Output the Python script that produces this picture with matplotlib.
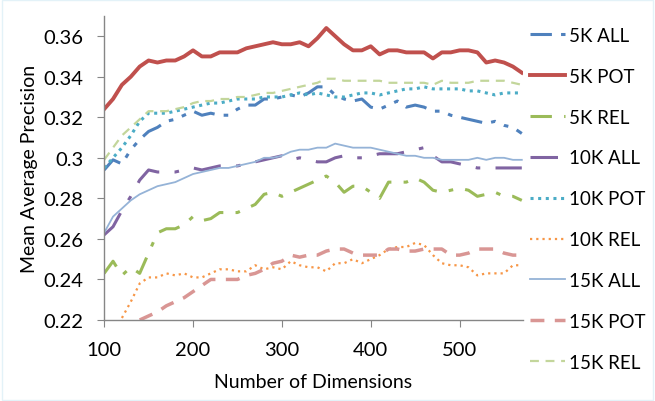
import numpy as np
import matplotlib
matplotlib.use("Agg")
import matplotlib.pyplot as plt
from matplotlib.patches import Rectangle

plt.rcParams['font.family'] = ['Lato', 'DejaVu Sans']

# number of dimensions
dims = list(range(100, 571, 10))

all_5k = [0.294, 0.299, 0.297, 0.304, 0.309, 0.313, 0.315, 0.318, 0.319, 0.321,
          0.323, 0.321, 0.322, 0.321, 0.321, 0.324, 0.326, 0.326, 0.329, 0.329,
          0.330, 0.331, 0.330, 0.332, 0.335, 0.335, 0.331, 0.329, 0.328, 0.329,
          0.325, 0.324, 0.326, 0.328, 0.325, 0.326, 0.325, 0.323, 0.323, 0.321,
          0.320, 0.319, 0.318, 0.317, 0.318, 0.316, 0.315, 0.312]
pot_5k = [0.324, 0.329, 0.336, 0.340, 0.345, 0.348, 0.347, 0.348, 0.348, 0.350,
          0.353, 0.350, 0.350, 0.352, 0.352, 0.352, 0.354, 0.355, 0.356, 0.357,
          0.356, 0.356, 0.357, 0.355, 0.359, 0.364, 0.360, 0.356, 0.353, 0.353,
          0.355, 0.351, 0.353, 0.353, 0.352, 0.352, 0.352, 0.349, 0.352, 0.352,
          0.353, 0.353, 0.352, 0.347, 0.348, 0.347, 0.345, 0.342]
rel_5k = [0.243, 0.249, 0.242, 0.246, 0.243, 0.253, 0.263, 0.265, 0.265, 0.267,
          0.271, 0.269, 0.270, 0.273, 0.273, 0.273, 0.275, 0.277, 0.282, 0.283,
          0.281, 0.283, 0.285, 0.287, 0.289, 0.291, 0.288, 0.283, 0.286, 0.286,
          0.283, 0.280, 0.288, 0.288, 0.288, 0.290, 0.288, 0.284, 0.283, 0.284,
          0.285, 0.284, 0.281, 0.282, 0.283, 0.281, 0.281, 0.279]
all_10k = [0.262, 0.266, 0.274, 0.281, 0.289, 0.294, 0.293, 0.293, 0.293, 0.294,
           0.295, 0.294, 0.295, 0.296, 0.296, 0.296, 0.297, 0.298, 0.299, 0.300,
           0.301, 0.299, 0.300, 0.299, 0.298, 0.298, 0.300, 0.301, 0.300, 0.300,
           0.301, 0.302, 0.302, 0.302, 0.303, 0.304, 0.305, 0.301, 0.298, 0.298,
           0.297, 0.296, 0.295, 0.295, 0.295, 0.295, 0.295, 0.295]
pot_10k = [0.295, 0.300, 0.305, 0.311, 0.318, 0.322, 0.322, 0.322, 0.323, 0.324,
           0.325, 0.326, 0.327, 0.327, 0.328, 0.329, 0.329, 0.329, 0.330, 0.330,
           0.330, 0.331, 0.332, 0.331, 0.332, 0.331, 0.330, 0.330, 0.331, 0.332,
           0.332, 0.331, 0.332, 0.333, 0.334, 0.334, 0.335, 0.334, 0.334, 0.334,
           0.334, 0.333, 0.333, 0.332, 0.331, 0.332, 0.332, 0.332]
rel_10k = [np.nan, np.nan, 0.221, 0.229, 0.238, 0.241, 0.241, 0.243, 0.242, 0.243,
           0.241, 0.241, 0.243, 0.245, 0.245, 0.244, 0.244, 0.247, 0.245, 0.246,
           0.245, 0.249, 0.247, 0.246, 0.246, 0.244, 0.248, 0.248, 0.250, 0.248,
           0.250, 0.252, 0.255, 0.256, 0.256, 0.258, 0.257, 0.252, 0.248, 0.247,
           0.247, 0.246, 0.242, 0.243, 0.243, 0.243, 0.247, 0.247]
all_15k = [0.263, 0.271, 0.275, 0.279, 0.282, 0.284, 0.286, 0.287, 0.288, 0.290,
           0.292, 0.293, 0.294, 0.295, 0.295, 0.296, 0.297, 0.298, 0.300, 0.300,
           0.301, 0.303, 0.304, 0.304, 0.305, 0.305, 0.307, 0.306, 0.305, 0.305,
           0.305, 0.304, 0.303, 0.302, 0.301, 0.301, 0.300, 0.300, 0.299, 0.299,
           0.299, 0.299, 0.300, 0.299, 0.300, 0.300, 0.299, 0.299]
pot_15k = [np.nan, np.nan, np.nan, np.nan, 0.220, 0.222, 0.224, 0.227, 0.229, 0.231,
           0.234, 0.237, 0.240, 0.240, 0.240, 0.240, 0.242, 0.243, 0.245, 0.248,
           0.249, 0.252, 0.251, 0.252, 0.252, 0.254, 0.255, 0.255, 0.253, 0.252,
           0.252, 0.252, 0.255, 0.255, 0.254, 0.254, 0.255, 0.255, 0.255, 0.252,
           0.252, 0.253, 0.255, 0.255, 0.255, 0.253, 0.252, 0.252]
rel_15k = [0.299, 0.305, 0.311, 0.315, 0.319, 0.323, 0.323, 0.323, 0.324, 0.325,
           0.327, 0.328, 0.328, 0.329, 0.329, 0.330, 0.330, 0.331, 0.332, 0.332,
           0.333, 0.334, 0.335, 0.336, 0.337, 0.339, 0.339, 0.338, 0.338, 0.338,
           0.338, 0.338, 0.337, 0.337, 0.337, 0.337, 0.337, 0.336, 0.338, 0.337,
           0.337, 0.337, 0.338, 0.338, 0.338, 0.338, 0.337, 0.336]

yticks = [0.22, 0.24, 0.26, 0.28, 0.30, 0.32, 0.34, 0.36]
ytick_labels = ['0.22', '0.24', '0.26', '0.28', '0.3', '0.32', '0.34', '0.36']
xticks = [100, 200, 300, 400, 500]

fig = plt.figure(figsize=(6.55, 4.02), dpi=100)
ax = fig.add_axes([0.159, 0.2015, 0.639, 0.7565])

ax.plot(dims, all_5k, color='#4F81BD', lw=2.2, dashes=(7, 3, 1.5, 3, 1.5, 3), label='5K ALL')
ax.plot(dims, pot_5k, color='#C0504D', lw=2.8, label='5K POT')
ax.plot(dims, rel_5k, color='#9BBB59', lw=2.2, dashes=(7, 4, 1.5, 4), label='5K REL')
ax.plot(dims, all_10k, color='#8064A2', lw=2.2, dashes=(9, 5, 1.5, 5), label='10K ALL')
ax.plot(dims, pot_10k, color='#4BACC6', lw=2.2, dashes=(1, 1.5), label='10K POT')
ax.plot(dims, rel_10k, color='#F79646', lw=1.6, dashes=(1, 1.8), label='10K REL')
ax.plot(dims, all_15k, color='#95B3D7', lw=1.3, label='15K ALL')
ax.plot(dims, pot_15k, color='#D99694', lw=2.5, dashes=(4, 3), label='15K POT')
ax.plot(dims, rel_15k, color='#C3D69B', lw=1.6, dashes=(4, 3), label='15K REL')

ax.set_xlim(100, 571)
ax.set_ylim(0.22, 0.37)
ax.set_xticks(xticks)
ax.set_yticks(yticks)
ax.set_yticklabels(ytick_labels)

for s in ['top', 'right']:
    ax.spines[s].set_visible(False)
for s in ['left', 'bottom']:
    ax.spines[s].set_color('#868686')
    ax.spines[s].set_linewidth(1.0)
ax.tick_params(direction='out', length=5, color='#868686', labelsize=14.5)
ax.tick_params(axis='y', pad=10)
ax.tick_params(axis='x', pad=10)

ax.set_xlabel('Number of Dimensions', fontsize=14, labelpad=11)
ax.set_ylabel('Mean Average Precision', fontsize=14, labelpad=4)

ax.legend(loc='upper left', bbox_to_anchor=(1.0, 0.988), frameon=False,
          fontsize=13.5, handlelength=1.87, handletextpad=0.2, labelspacing=1.27,
          borderaxespad=0.0)

fig.patches.append(Rectangle((0.003, 0.003), 0.994, 0.994, transform=fig.transFigure,
                             fill=False, edgecolor='#e3f2f8', lw=1))

fig.savefig('out.png', dpi=100)
